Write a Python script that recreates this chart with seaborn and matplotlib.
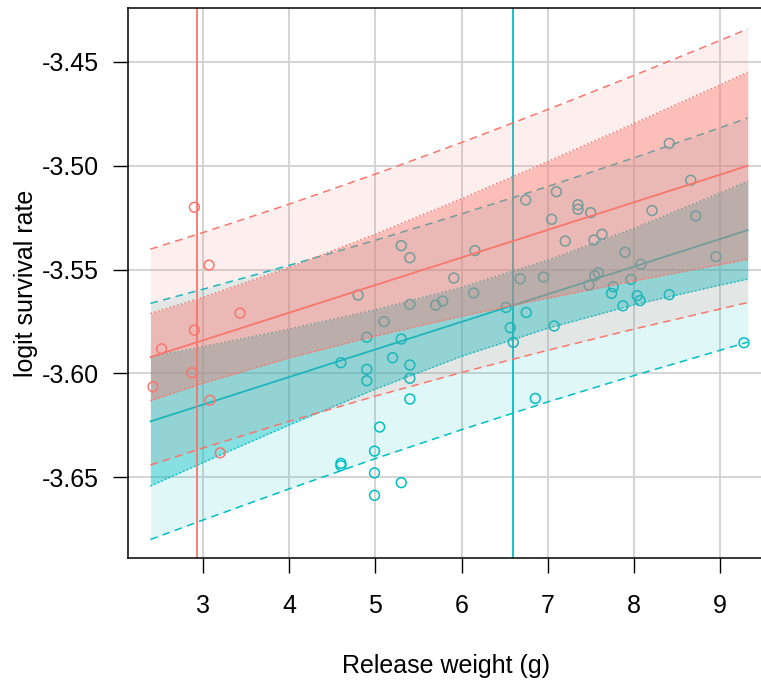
import numpy as np
import pandas as pd
import matplotlib
matplotlib.use("Agg")
import matplotlib.pyplot as plt
import seaborn as sns

# ---- observed fish: release weight (g) and logit survival rate ----
red_weight = [2.42, 2.52, 2.87, 2.90, 2.90, 3.07, 3.08, 3.20, 3.43]
red_logit = [-3.6065, -3.5882, -3.5997, -3.5792, -3.5200, -3.5479, -3.6130, -3.6383, -3.5710]

teal_weight = [4.60, 4.60, 4.60, 4.80, 4.90, 4.90, 4.90, 4.99, 4.99, 4.99,
               5.05, 5.10, 5.20, 5.30, 5.30, 5.30, 5.40, 5.40, 5.40, 5.40,
               5.40, 5.70, 5.78, 5.91, 6.14, 6.155, 6.515, 6.565, 6.60, 6.68,
               6.744, 6.75, 6.855, 6.95, 7.045, 7.075, 7.10, 7.203, 7.35, 7.35,
               7.478, 7.497, 7.536, 7.544, 7.586, 7.629, 7.74, 7.76, 7.872, 7.896,
               7.965, 8.038, 8.07, 8.08, 8.21, 8.41, 8.41, 8.658, 8.716, 8.95, 9.276]
teal_logit = [-3.5949, -3.6434, -3.6445, -3.5623, -3.5826, -3.5981, -3.6036, -3.6375, -3.6480, -3.6588,
              -3.6259, -3.5751, -3.5925, -3.5385, -3.5835, -3.6527, -3.5443, -3.5668, -3.5960, -3.6024,
              -3.6124, -3.5672, -3.5652, -3.5541, -3.5613, -3.5409, -3.5683, -3.5780, -3.5851, -3.5545,
              -3.5165, -3.5707, -3.6121, -3.5536, -3.5258, -3.5772, -3.5125, -3.5363, -3.5188, -3.5210,
              -3.5575, -3.5226, -3.5358, -3.5530, -3.5515, -3.5330, -3.5615, -3.5583, -3.5675, -3.5417,
              -3.5548, -3.5626, -3.5650, -3.5475, -3.5216, -3.4892, -3.5621, -3.5070, -3.5242, -3.5438, -3.5853]

# group mean release weights
red_mean_weight = 2.93
teal_mean_weight = 6.60

# ---- fitted lines with confidence (inner) and prediction (outer) bands ----
band_weight = [2.39, 3.0, 4.0, 5.0, 6.0, 7.0, 8.0, 9.0, 9.32]

red_fit = [-3.5922, -3.5841, -3.5708, -3.5575, -3.5442, -3.5309, -3.5176, -3.5043, -3.5000]
red_ci_lo = [-3.6132, -3.6048, -3.5926, -3.5820, -3.5725, -3.5638, -3.5555, -3.5476, -3.5451]
red_ci_hi = [-3.5712, -3.5634, -3.5490, -3.5330, -3.5159, -3.4980, -3.4797, -3.4610, -3.4549]
red_pi_lo = [-3.6442, -3.6360, -3.6231, -3.6110, -3.5996, -3.5889, -3.5787, -3.5690, -3.5659]
red_pi_hi = [-3.5402, -3.5322, -3.5185, -3.5040, -3.4888, -3.4729, -3.4565, -3.4396, -3.4341]

teal_fit = [-3.6232, -3.6151, -3.6018, -3.5885, -3.5752, -3.5619, -3.5486, -3.5353, -3.5310]
teal_ci_lo = [-3.6543, -3.6430, -3.6249, -3.6076, -3.5918, -3.5783, -3.5670, -3.5575, -3.5546]
teal_ci_hi = [-3.5921, -3.5872, -3.5787, -3.5694, -3.5586, -3.5455, -3.5302, -3.5131, -3.5074]
teal_pi_lo = [-3.6801, -3.6707, -3.6557, -3.6411, -3.6272, -3.6138, -3.6011, -3.5889, -3.5850]
teal_pi_hi = [-3.5663, -3.5595, -3.5480, -3.5359, -3.5232, -3.5100, -3.4962, -3.4817, -3.4770]

x_ticks = [3, 4, 5, 6, 7, 8, 9]
y_ticks = [-3.45, -3.50, -3.55, -3.60, -3.65]
y_tick_labels = ["-3.45", "-3.50", "-3.55", "-3.60", "-3.65"]

RED = "#F8766D"
TEAL = "#00BFC4"

sns.set_style("white")
plt.rcParams["font.family"] = ["Liberation Sans", "DejaVu Sans"]

fig = plt.figure(figsize=(7.61, 6.81), dpi=100)
ax = fig.add_axes([128 / 761, 1 - 558 / 681, (765 - 128) / 761, (558 - 8) / 681])

ax.set_xlim(2.13, 9.52)
ax.set_ylim(-3.689, -3.424)

# grid under everything
for xt in x_ticks:
    ax.axvline(xt, color="#D4D4D4", lw=1.4, zorder=0)
for yt in y_ticks:
    ax.axhline(yt, color="#D4D4D4", lw=1.4, zorder=0)

bands = pd.DataFrame({"weight": band_weight})


def draw_group(color, mean_w, fit, ci_lo, ci_hi, pi_lo, pi_hi, px, py, z):
    ax.axvline(mean_w, color=color, lw=1.3, zorder=z)
    sns.scatterplot(x=px, y=py, ax=ax, marker="o", s=50, facecolor="none",
                    edgecolor=color, linewidth=1.1, zorder=z + 0.1, legend=False)
    ax.fill_between(band_weight, pi_lo, pi_hi, color=color, alpha=0.12,
                    lw=0, zorder=z + 0.2)
    ax.fill_between(band_weight, ci_lo, ci_hi, color=color, alpha=0.40,
                    lw=0, zorder=z + 0.3)
    for edge, style in ((pi_lo, (0, (5, 3.5))), (pi_hi, (0, (5, 3.5))),
                        (ci_lo, (0, (1, 1.6))), (ci_hi, (0, (1, 1.6)))):
        ax.plot(band_weight, edge, color=color, lw=1.1, linestyle=style,
                zorder=z + 0.4)
    sns.lineplot(data=bands.assign(fit=fit), x="weight", y="fit", ax=ax,
                 color=color, lw=1.3, zorder=z + 0.5)


draw_group(TEAL, teal_mean_weight, teal_fit, teal_ci_lo, teal_ci_hi,
           teal_pi_lo, teal_pi_hi, teal_weight, teal_logit, 1)
draw_group(RED, red_mean_weight, red_fit, red_ci_lo, red_ci_hi,
           red_pi_lo, red_pi_hi, red_weight, red_logit, 2)

ax.set_xticks(x_ticks)
ax.set_xticklabels([str(v) for v in x_ticks])
ax.set_yticks(y_ticks)
ax.set_yticklabels(y_tick_labels)
ax.tick_params(axis="both", direction="out", length=11, width=1.0,
               color="black", labelsize=18, labelcolor="black",
               bottom=True, left=True)
ax.tick_params(axis="x", pad=15)
ax.tick_params(axis="y", pad=10)

for sp in ax.spines.values():
    sp.set_visible(True)
    sp.set_color("black")
    sp.set_linewidth(1.1)

ax.set_xlabel("Release weight (g)", fontsize=18, labelpad=26, color="black")
ax.set_ylabel("logit survival rate", fontsize=18, labelpad=3, color="black")

fig.savefig("out.png", dpi=100)
